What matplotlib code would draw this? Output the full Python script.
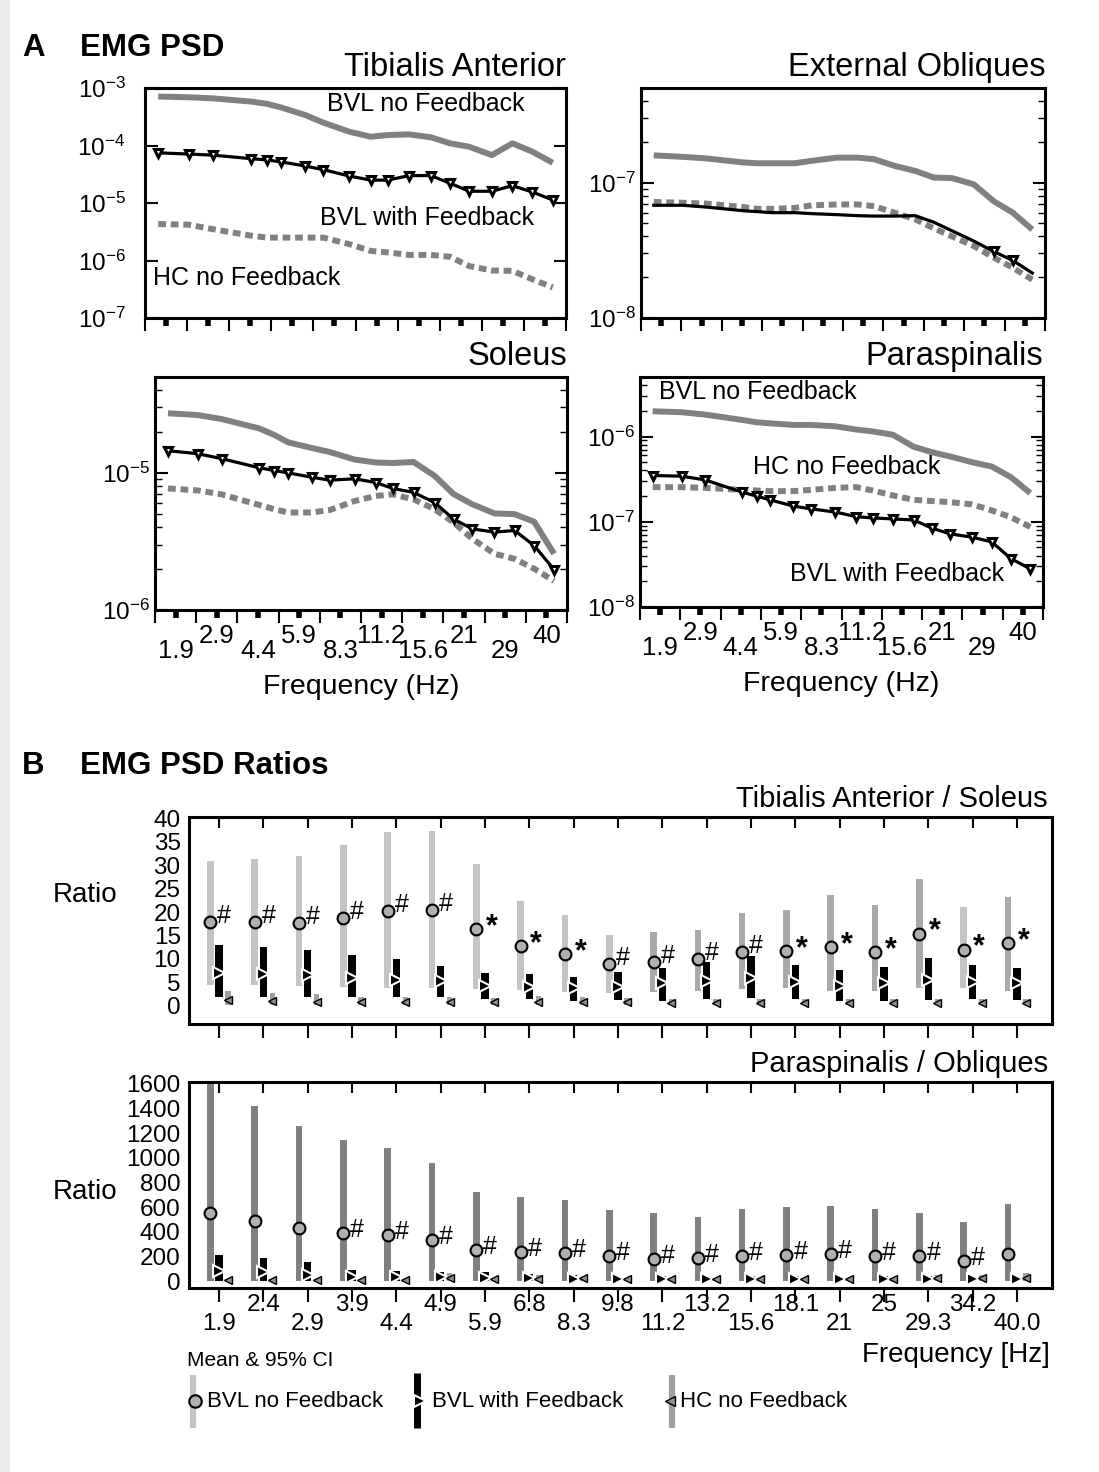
import numpy as np
import matplotlib
matplotlib.use('Agg')
import matplotlib.pyplot as plt
from matplotlib.ticker import FixedLocator, FixedFormatter, NullFormatter, LogLocator
from matplotlib.patches import Rectangle

plt.rcParams['font.family'] = ['Liberation Sans', 'DejaVu Sans']
plt.rcParams['mathtext.fontset'] = 'custom'
plt.rcParams['mathtext.rm'] = 'Liberation Sans'
plt.rcParams['mathtext.it'] = 'Liberation Sans:italic'
plt.rcParams['mathtext.bf'] = 'Liberation Sans:bold'

# ---------------- data ----------------
freqs = [1.9, 2.4, 2.9, 3.9, 4.4, 4.9, 5.9, 6.8, 8.3, 9.8, 11.2, 13.2, 15.6, 18.1, 21, 25, 29.3, 34.2, 40.0]
psd_tick_labels = ['1.9', '2.9', '4.4', '5.9', '8.3', '11.2', '15.6', '21', '29', '40']

ta_nofb = [7.1e-4, 6.9e-4, 6.6e-4, 5.8e-4, 5.3e-4, 4.6e-4, 3.4e-4, 2.5e-4, 1.74e-4, 1.42e-4,
           1.52e-4, 1.56e-4, 1.39e-4, 1.09e-4, 9.5e-5, 6.8e-5, 1.09e-4, 7.8e-5, 5.0e-5]
ta_fb = [7.46e-5, 7.1e-5, 6.8e-5, 5.9e-5, 5.6e-5, 5.2e-5, 4.4e-5, 3.8e-5, 2.95e-5, 2.5e-5,
         2.5e-5, 3.0e-5, 3.0e-5, 2.2e-5, 1.6e-5, 1.6e-5, 2.0e-5, 1.55e-5, 1.13e-5]
ta_hc = [4.3e-6, 4.2e-6, 3.5e-6, 2.7e-6, 2.5e-6, 2.5e-6, 2.5e-6, 2.5e-6, 1.93e-6, 1.47e-6,
         1.38e-6, 1.25e-6, 1.25e-6, 1.16e-6, 8.0e-7, 6.7e-7, 6.6e-7, 4.7e-7, 3.4e-7]
ta_marks = [1] * 19

eo_nofb = [1.59e-7, 1.55e-7, 1.51e-7, 1.41e-7, 1.39e-7, 1.39e-7, 1.39e-7, 1.45e-7, 1.53e-7, 1.53e-7,
           1.49e-7, 1.33e-7, 1.22e-7, 1.09e-7, 1.08e-7, 9.7e-8, 7.3e-8, 6.0e-8, 4.5e-8]
eo_fb = [6.8e-8, 6.8e-8, 6.6e-8, 6.2e-8, 6.1e-8, 6.0e-8, 6.0e-8, 5.9e-8, 5.8e-8, 5.7e-8,
         5.66e-8, 5.66e-8, 5.7e-8, 5.1e-8, 4.4e-8, 3.7e-8, 3.1e-8, 2.66e-8, 2.15e-8]
eo_hc = [7.2e-8, 7.1e-8, 7.0e-8, 6.6e-8, 6.4e-8, 6.4e-8, 6.5e-8, 6.8e-8, 6.9e-8, 6.9e-8,
         6.7e-8, 6.0e-8, 5.35e-8, 4.6e-8, 4.0e-8, 3.4e-8, 2.8e-8, 2.35e-8, 1.92e-8]
eo_marks = [0] * 16 + [1, 1, 0]

so_nofb = [2.72e-5, 2.64e-5, 2.47e-5, 2.11e-5, 1.89e-5, 1.67e-5, 1.52e-5, 1.42e-5, 1.25e-5, 1.19e-5,
           1.18e-5, 1.20e-5, 9.5e-6, 7.0e-6, 5.9e-6, 5.06e-6, 5.0e-6, 4.4e-6, 2.57e-6]
so_fb = [1.45e-5, 1.38e-5, 1.27e-5, 1.09e-5, 1.04e-5, 1.0e-5, 9.3e-6, 8.85e-6, 9.05e-6, 8.5e-6,
         7.7e-6, 7.2e-6, 6.07e-6, 4.6e-6, 3.9e-6, 3.7e-6, 3.8e-6, 2.95e-6, 1.97e-6]
so_hc = [7.7e-6, 7.45e-6, 6.97e-6, 5.84e-6, 5.43e-6, 5.14e-6, 5.14e-6, 5.35e-6, 6.24e-6, 6.78e-6,
         6.97e-6, 6.41e-6, 5.43e-6, 4.35e-6, 3.3e-6, 2.57e-6, 2.36e-6, 2.0e-6, 1.63e-6]
so_marks = [1] * 19

pa_nofb = [1.98e-6, 1.93e-6, 1.81e-6, 1.57e-6, 1.47e-6, 1.43e-6, 1.37e-6, 1.37e-6, 1.32e-6, 1.21e-6,
           1.15e-6, 1.05e-6, 7.6e-7, 6.55e-7, 5.83e-7, 5.0e-7, 4.45e-7, 3.34e-7, 2.17e-7]
pa_fb = [3.49e-7, 3.43e-7, 3.1e-7, 2.23e-7, 2.0e-7, 1.81e-7, 1.53e-7, 1.42e-7, 1.30e-7, 1.15e-7,
         1.11e-7, 1.08e-7, 1.05e-7, 8.4e-8, 7.2e-8, 6.6e-8, 5.8e-8, 3.7e-8, 2.8e-8]
pa_hc = [2.55e-7, 2.55e-7, 2.5e-7, 2.37e-7, 2.33e-7, 2.29e-7, 2.29e-7, 2.37e-7, 2.5e-7, 2.55e-7,
         2.33e-7, 2.04e-7, 1.81e-7, 1.75e-7, 1.70e-7, 1.60e-7, 1.36e-7, 1.13e-7, 8.7e-8]
pa_marks = [1] * 19

ratio_labels = ['1.9', '2.4', '2.9', '3.9', '4.4', '4.9', '5.9', '6.8', '8.3', '9.8', '11.2', '13.2',
                '15.6', '18.1', '21', '25', '29.3', '34.2', '40.0']

# Tibialis Anterior / Soleus
r1_nofb_mean = [17.9, 17.8, 17.6, 18.8, 20.2, 20.4, 16.3, 12.8, 11.0, 8.9, 9.4, 9.9, 11.4, 11.7, 12.5, 11.4, 15.4, 12.0, 13.3]
r1_nofb_lo = [4.4, 4.4, 4.3, 3.9, 3.7, 3.7, 3.6, 3.3, 3.0, 2.8, 3.0, 3.2, 3.6, 3.8, 3.1, 3.1, 3.7, 3.7, 3.2]
r1_nofb_hi = [31.0, 31.3, 32.0, 34.3, 37.0, 37.4, 30.2, 22.4, 19.4, 15.2, 15.8, 16.2, 19.9, 20.4, 23.6, 21.6, 27.0, 21.0, 23.3]
r1_fb_mean = [7.0, 6.7, 6.5, 6.0, 5.6, 5.3, 4.3, 4.1, 3.7, 4.1, 4.8, 5.3, 6.0, 5.0, 4.3, 4.8, 5.5, 5.0, 4.9]
r1_fb_lo = [1.8, 1.8, 1.8, 1.8, 1.8, 1.8, 1.35, 1.35, 1.07, 1.2, 1.07, 1.35, 1.6, 1.35, 1.07, 1.07, 1.2, 1.35, 1.2]
r1_fb_hi = [12.95, 12.5, 12.0, 10.8, 9.9, 8.5, 7.0, 6.7, 6.2, 7.3, 8.1, 9.4, 10.7, 8.7, 7.6, 8.3, 10.2, 8.8, 8.0]
r1_hc_mean = [1.2, 1.0, 0.9, 0.8, 0.8, 0.8, 0.8, 0.8, 0.8, 0.8, 0.6, 0.6, 0.6, 0.6, 0.6, 0.6, 0.6, 0.6, 0.6]
r1_hc_lo = [0.2] * 19
r1_hc_hi = [3.1, 2.8, 2.4, 1.9, 1.8, 1.8, 1.7, 2.1, 1.9, 1.7, 1.5, 1.5, 1.5, 1.5, 1.5, 1.5, 1.5, 1.5, 1.5]
r1_sig = ['#'] * 6 + ['*'] * 3 + ['#'] * 4 + ['*'] * 6

# Paraspinalis / Obliques
r2_nofb_mean = [551, 492, 435, 395, 376, 336, 255, 242, 234, 207, 183, 188, 207, 215, 220, 207, 202, 169, 223]
r2_nofb_lo = [0] * 19
r2_nofb_hi = [1610, 1417, 1255, 1142, 1081, 960, 720, 680, 659, 578, 551, 524, 583, 605, 613, 583, 556, 484, 624]
r2_fb_mean = [81, 75, 54, 40, 40, 32, 27, 27, 19, 19, 20, 20, 20, 20, 20, 20, 20, 19, 19]
r2_fb_lo = [0] * 19
r2_fb_hi = [215, 188, 156, 89, 81, 75, 73, 62, 54, 40, 45, 45, 45, 45, 45, 45, 45, 35, 35]
r2_hc_mean = [13, 13, 13, 13, 13, 27, 20, 20, 27, 20, 20, 20, 20, 20, 20, 20, 27, 27, 27]
r2_hc_lo = [0] * 19
r2_hc_hi = [20, 20, 20, 20, 20, 67, 25, 54, 40, 25, 25, 25, 25, 25, 25, 25, 50, 50, 67]
r2_sig = ['', '', ''] + ['#'] * 15 + ['']

# ---------------- style ----------------
GRAY = '#808080'
LIGHT = '#c4c4c4'
MID = '#a9a9a9'
r1_colors = [LIGHT] * 10 + [MID] * 7 + [LIGHT, MID]

W, H = 1099, 1472
fig = plt.figure(figsize=(W / 100, H / 100), dpi=100)
fig.patch.set_facecolor('white')


def axes_px(l, t, r, b):
    return fig.add_axes([l / W, 1 - b / H, (r - l) / W, (b - t) / H])


lf0, lf1 = np.log10(freqs[0]), np.log10(freqs[-1])
margin = 0.0315
span = (lf1 - lf0) / (1 - 2 * margin)
x_lo, x_hi = lf0 - margin * span, lf1 + margin * span
tick_pos = 10 ** (x_lo + np.arange(21) / 20 * (x_hi - x_lo))
thick_ticks = tick_pos[1::2]
thin_ticks = tick_pos[0::2]


def psd_panel(box, nofb, fb, hc, marks, ylim, decades, title, xlabels, ypad=4):
    ax = axes_px(*box)
    ax.set_xscale('log')
    ax.set_yscale('log')
    f = np.array(freqs)
    ax.plot(f, nofb, color=GRAY, lw=4.3, solid_capstyle='butt', solid_joinstyle='round', zorder=2)
    ax.plot(f, hc, color=GRAY, lw=4.3, dashes=(1.3, 0.8), dash_capstyle='butt', zorder=2)
    ax.plot(f, fb, color='black', lw=2.3, zorder=3)
    m = np.array(marks, bool)
    ax.plot(f[m], np.array(fb)[m], ls='none', marker='v', ms=6, mfc='white', mec='black', mew=2.2, zorder=4)
    ax.set_xlim(10 ** x_lo, 10 ** x_hi)
    ax.set_ylim(*ylim)
    for s in ax.spines.values():
        s.set_linewidth(2.2)
    ax.xaxis.set_major_locator(FixedLocator(thick_ticks))
    ax.xaxis.set_minor_locator(FixedLocator(thin_ticks))
    ax.xaxis.set_major_formatter(NullFormatter())
    ax.xaxis.set_minor_formatter(NullFormatter())
    ax.tick_params(axis='x', which='major', direction='out', length=6, width=4, top=False)
    ax.tick_params(axis='x', which='minor', direction='out', length=9, width=1.5, top=False)
    ax.yaxis.set_major_locator(FixedLocator(decades))
    ax.yaxis.set_major_formatter(FixedFormatter([r'$10^{%d}$' % int(round(np.log10(d))) for d in decades]))
    ax.yaxis.set_minor_locator(LogLocator(base=10, subs=np.arange(2, 10)))
    ax.yaxis.set_minor_formatter(NullFormatter())
    ax.tick_params(axis='y', which='major', direction='in', length=9, width=1.5, left=True, right=True,
                   labelsize=17.5, pad=ypad)
    ax.tick_params(axis='y', which='minor', direction='in', length=5, width=1, left=True, right=True)
    ax.annotate(title, xy=(1, 1), xycoords='axes fraction', xytext=(0, 12), textcoords='offset pixels',
                ha='right', va='baseline', fontsize=23.5)
    if xlabels:
        for i, (pos, lab) in enumerate(zip(thick_ticks, psd_tick_labels)):
            dy = -29 if i % 2 == 0 else -14
            ax.annotate(lab, xy=(pos, 0), xycoords=('data', 'axes fraction'), xytext=(0, dy),
                        textcoords='offset pixels', ha='center', va='top', fontsize=18.5)
        ax.annotate('Frequency (Hz)', xy=(0.5, 0), xycoords='axes fraction', xytext=(0, -84),
                    textcoords='offset pixels', ha='center', va='baseline', fontsize=20.5)
    return ax


ax1 = psd_panel((145, 88, 566, 318), ta_nofb, ta_fb, ta_hc, ta_marks, (1e-7, 1e-3),
                [1e-7, 1e-6, 1e-5, 1e-4, 1e-3], 'Tibialis Anterior', False, ypad=14)
ax1.text(0.668, 0.931, 'BVL no Feedback', transform=ax1.transAxes, ha='center', va='center', fontsize=18)
ax1.text(0.671, 0.435, 'BVL with Feedback', transform=ax1.transAxes, ha='center', va='center', fontsize=18)
ax1.text(0.02, 0.175, 'HC no Feedback', transform=ax1.transAxes, ha='left', va='center', fontsize=18)

ax2 = psd_panel((641, 88, 1045, 318), eo_nofb, eo_fb, eo_hc, eo_marks, (1e-8, 5e-7),
                [1e-8, 1e-7], 'External Obliques', False)

ax3 = psd_panel((155, 377, 567, 610), so_nofb, so_fb, so_hc, so_marks, (1e-6, 5e-5),
                [1e-6, 1e-5], 'Soleus', True)

ax4 = psd_panel((640, 377, 1043, 607), pa_nofb, pa_fb, pa_hc, pa_marks, (1e-8, 5e-6),
                [1e-8, 1e-7, 1e-6], 'Paraspinalis', True)
ax4.text(0.048, 0.935, 'BVL no Feedback', transform=ax4.transAxes, ha='left', va='center', fontsize=18)
ax4.text(0.28, 0.609, 'HC no Feedback', transform=ax4.transAxes, ha='left', va='center', fontsize=18)
ax4.text(0.373, 0.145, 'BVL with Feedback', transform=ax4.transAxes, ha='left', va='center', fontsize=18)


def ratio_panel(box, nm, nlo, nhi, ncol, fm, flo, fhi, hm, hlo, hhi, sig, ylim, yticks, title,
                sig_dy, xlabels):
    ax = axes_px(*box)
    x = np.arange(len(ratio_labels))
    ax.bar(x - 0.2, np.subtract(nhi, nlo), bottom=nlo, width=0.15, color=ncol, lw=0, zorder=1)
    ax.bar(x, np.subtract(fhi, flo), bottom=flo, width=0.165, color='black', lw=0, zorder=1)
    ax.bar(x + 0.2, np.subtract(hhi, hlo), bottom=hlo, width=0.12, color='#a0a0a0', lw=0, zorder=1)
    ax.plot(x - 0.2, nm, ls='none', marker='o', ms=8.5, mfc='#b0b0b0', mec='black', mew=1.5, zorder=3)
    ax.plot(x, fm, ls='none', marker='>', ms=8, mfc='black', mec='white', mew=1.5, zorder=3)
    ax.plot(x + 0.2, hm, ls='none', marker='<', ms=5.5, mfc='#909090', mec='black', mew=1, zorder=3)
    for xi, yi, s in zip(x, nm, sig):
        if s == '#':
            ax.annotate('#', xy=(xi - 0.2, yi), xytext=(14, sig_dy), textcoords='offset pixels',
                        ha='center', va='center', fontsize=18)
        elif s == '*':
            ax.annotate('*', xy=(xi - 0.2, yi), xytext=(15.5, 2), textcoords='offset pixels',
                        ha='center', va='center', fontsize=22, fontweight='bold')
    ax.set_xlim(-0.68, 18.79)
    ax.set_ylim(*ylim)
    for s in ax.spines.values():
        s.set_linewidth(2.2)
    ax.xaxis.set_major_locator(FixedLocator(x))
    ax.xaxis.set_minor_locator(FixedLocator(x))
    ax.xaxis.remove_overlapping_locs = False
    ax.xaxis.set_major_formatter(NullFormatter())
    ax.tick_params(axis='x', which='major', direction='out', length=10, width=1.5, bottom=True, top=False)
    ax.tick_params(axis='x', which='minor', direction='in', length=8, width=1.5, bottom=False, top=True)
    ax.set_yticks(yticks)
    ax.set_yticklabels([str(v) for v in yticks])
    ax.tick_params(axis='y', length=0, labelsize=17.5, pad=6)
    ax.annotate(title, xy=(1, 1), xycoords='axes fraction', xytext=(-4, 10), textcoords='offset pixels',
                ha='right', va='baseline', fontsize=21)
    if xlabels:
        for i, lab in enumerate(ratio_labels):
            dy = -25 if i % 2 == 0 else -6
            ax.annotate(lab, xy=(i, 0), xycoords=('data', 'axes fraction'), xytext=(0, dy),
                        textcoords='offset pixels', ha='center', va='top', fontsize=17.5)
    return ax


bx1 = ratio_panel((189, 817, 1052, 1024), r1_nofb_mean, r1_nofb_lo, r1_nofb_hi, r1_colors,
                  r1_fb_mean, r1_fb_lo, r1_fb_hi, r1_hc_mean, r1_hc_lo, r1_hc_hi, r1_sig,
                  (-3.9, 40.3), list(range(0, 41, 5)), 'Tibialis Anterior / Soleus', 6, False)
bx2 = ratio_panel((189, 1082, 1052, 1288), r2_nofb_mean, r2_nofb_lo, r2_nofb_hi, GRAY,
                  r2_fb_mean, r2_fb_lo, r2_fb_hi, r2_hc_mean, r2_hc_lo, r2_hc_hi, r2_sig,
                  (-53, 1613), list(range(0, 1601, 200)), 'Paraspinalis / Obliques', 3, True)

# ---------------- overlay (figure pixel coordinates) ----------------
ov = fig.add_axes([0, 0, 1, 1], zorder=-1)
ov.set_xlim(0, W)
ov.set_ylim(H, 0)
ov.axis('off')
ov.add_patch(Rectangle((0, 0), 10, H, color='#ebebeb', lw=0))

ov.text(22, 56, 'A', fontsize=22.5, fontweight='bold', va='baseline')
ov.text(80, 56, 'EMG PSD', fontsize=22.5, fontweight='bold', va='baseline')
ov.text(22, 774, 'B', fontsize=22.5, fontweight='bold', va='baseline')
ov.text(80, 774, 'EMG PSD Ratios', fontsize=22.5, fontweight='bold', va='baseline')

ov.text(85, 895, 'Ratio', fontsize=20, ha='center', va='center')
ov.text(85, 1192, 'Ratio', fontsize=20, ha='center', va='center')

ov.text(573, 858, '*', fontsize=26, fontweight='bold', ha='center', va='center')
ov.text(588, 851, '< 0.05', fontsize=20.5, ha='left', va='center')
ov.text(701, 853, '#', fontsize=14, fontweight='bold', ha='center', va='center')
ov.text(714, 851, '< 0.1', fontsize=20.5, ha='left', va='center')

ov.text(1050, 1362, 'Frequency [Hz]', fontsize=20, ha='right', va='baseline')
ov.text(187, 1366, 'Mean & 95% CI', fontsize=15, ha='left', va='baseline')

# legend entries
ov.plot([193, 193], [1375, 1428], color=LIGHT, lw=4.5, solid_capstyle='butt')
ov.plot([195], [1401], marker='o', ms=9, mfc='#b0b0b0', mec='black', mew=1.5)
ov.text(207, 1407, 'BVL no Feedback', fontsize=16, ha='left', va='baseline')
ov.plot([417, 417], [1373, 1428], color='black', lw=5, solid_capstyle='butt')
ov.plot([420], [1401], marker='>', ms=8, mfc='black', mec='white', mew=1.5)
ov.text(432, 1407, 'BVL with Feedback', fontsize=16, ha='left', va='baseline')
ov.plot([672, 672], [1375, 1428], color='#a0a0a0', lw=4.5, solid_capstyle='butt')
ov.plot([670], [1401], marker='<', ms=6.5, mfc='#909090', mec='black', mew=1)
ov.text(680, 1407, 'HC no Feedback', fontsize=16, ha='left', va='baseline')

fig.savefig('out.png', dpi=100, facecolor='white')
